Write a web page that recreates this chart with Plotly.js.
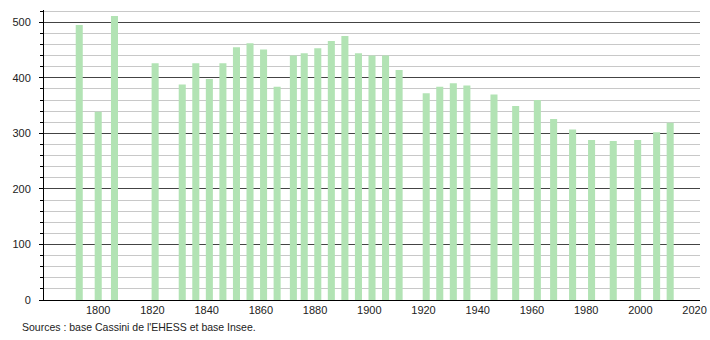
<!DOCTYPE html>
<html>
<head>
<meta charset="utf-8">
<script src="https://cdn.plot.ly/plotly-3.0.1.min.js"></script>
<style>
html,body{margin:0;padding:0;background:#fff;}
#chart{width:710px;height:340px;}
</style>
</head>
<body>
<div id="chart"></div>
<script>
const years = [1793,1800,1806,1821,1831,1836,1841,1846,1851,1856,1861,1866,1872,1876,1881,1886,1891,1896,1901,1906,1911,1921,1926,1931,1936,1946,1954,1962,1968,1975,1982,1990,1999,2006,2011];
const population = [495,339,511,426,388,426,398,426,455,462,451,384,440,444,453,466,475,444,440,440,414,372,384,390,386,370,349,360,326,307,288,286,288,302,319];
const xTickVals = [1800,1820,1840,1860,1880,1900,1920,1940,1960,1980,2000,2020];
const sourceText = "Sources : base Cassini de l'EHESS et base Insee.";

const trace = {
  type: 'bar',
  x: years,
  y: population,
  width: 2.6,
  marker: {color: '#b2e3b4', line: {width: 0}},
  hoverinfo: 'x+y'
};

const layout = {
  width: 710,
  height: 340,
  margin: {l: 44, r: 10, t: 10, b: 40},
  paper_bgcolor: '#fff',
  plot_bgcolor: '#fff',
  showlegend: false,
  font: {family: 'Liberation Sans, Arial, sans-serif', size: 11, color: '#222'},
  xaxis: {
    range: [1780, 2022],
    tickvals: xTickVals,
    ticktext: xTickVals.map(String),
    ticks: '',
    showgrid: false,
    zeroline: false,
    showline: true,
    linecolor: '#000',
    linewidth: 1,
    tickfont: {size: 11, color: '#222'}
  },
  yaxis: {
    range: [0, 522],
    dtick: 100,
    tick0: 0,
    ticks: 'outside',
    ticklen: 4,
    tickcolor: '#000',
    showgrid: true,
    gridcolor: '#444',
    gridwidth: 1,
    zeroline: false,
    showline: true,
    linecolor: '#000',
    linewidth: 1,
    ticklabelstandoff: 6,
    tickfont: {size: 11, color: '#222'},
    minor: {dtick: 20, tick0: 0, showgrid: true, gridcolor: '#c8c8c8', gridwidth: 1, ticks: 'outside', ticklen: 3, tickcolor: '#000'}
  },
  annotations: [{
    text: sourceText,
    xref: 'paper', yref: 'paper',
    x: -0.037, y: -0.093,
    xanchor: 'left', yanchor: 'middle',
    showarrow: false,
    font: {size: 10.5, color: '#222'}
  }]
};

Plotly.newPlot('chart', [trace], layout, {displayModeBar: false, staticPlot: true});
</script>
</body>
</html>
